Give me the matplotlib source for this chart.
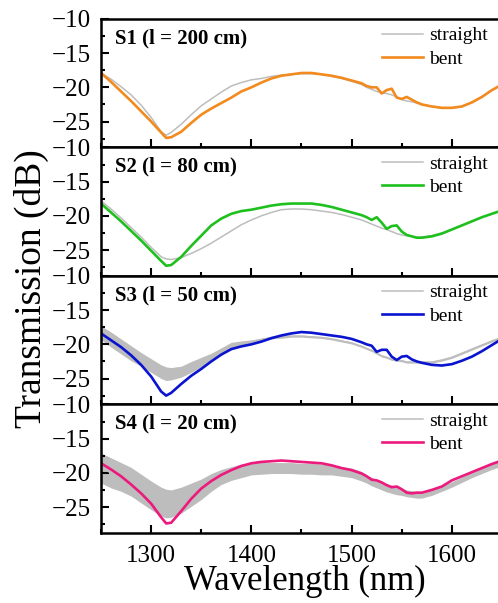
import matplotlib
matplotlib.use("Agg")
import matplotlib.pyplot as plt
from matplotlib.ticker import MultipleLocator

# --- data ---
wl = [1250, 1260, 1270, 1280, 1290, 1300, 1310, 1315, 1320, 1330, 1340, 1350, 1360, 1370,
      1380, 1390, 1400, 1410, 1420, 1430, 1440, 1450, 1460, 1470, 1480, 1490, 1500,
      1510, 1515, 1520, 1525, 1530, 1535, 1540, 1545, 1550, 1555, 1560, 1565, 1570,
      1580, 1590, 1600, 1610, 1620, 1630, 1640, 1650]

labels = ["S1 (l = 200 cm)", "S2 (l = 80 cm)", "S3 (l = 50 cm)", "S4 (l = 20 cm)"]
colors = ["#F28A1E", "#1EC01E", "#0A14D0", "#EC1A7C"]

s1_straight = [-17.9, -18.8, -19.9, -21.1, -22.6, -24.4, -26.5, -27.0, -26.6, -25.4, -24.0, -22.7, -21.7, -20.7,
               -19.8, -19.3, -18.9, -18.7, -18.4, -18.2, -18.1, -18.0, -18.0, -18.1, -18.4, -18.7, -19.1,
               -19.6, -20.0, -20.3, -20.6, -20.8, -20.9, -21.1, -21.4, -21.8, -22.0, -22.1, -22.3, -22.5,
               -22.8, -23.0, -23.0, -22.8, -22.2, -21.4, -20.4, -19.6]
s1_bent = [-17.9, -19.2, -20.6, -22.0, -23.5, -25.0, -26.6, -27.4, -27.3, -26.5, -25.2, -24.0, -23.1, -22.3,
           -21.5, -20.6, -20.0, -19.3, -18.7, -18.3, -18.1, -17.9, -17.9, -18.1, -18.3, -18.6, -19.0,
           -19.4, -19.8, -20.0, -20.0, -20.9, -20.4, -20.2, -21.5, -21.7, -21.4, -21.8, -22.2, -22.5,
           -22.8, -23.0, -23.0, -22.8, -22.2, -21.4, -20.4, -19.6]

s2_straight = [-17.8, -19.0, -20.3, -21.7, -23.1, -24.6, -26.0, -26.3, -26.4, -26.1, -25.5, -24.8, -24.0, -23.1,
               -22.2, -21.3, -20.6, -20.0, -19.5, -19.1, -19.0, -19.0, -19.1, -19.3, -19.5, -19.8, -20.2,
               -20.6, -20.9, -21.2, -21.5, -21.8, -22.0, -22.3, -22.6, -22.8, -22.9, -23.0, -23.1, -23.1,
               -22.9, -22.5, -22.0, -21.4, -20.8, -20.2, -19.7, -19.2]
s2_bent = [-18.2, -19.5, -20.8, -22.2, -23.6, -25.1, -26.6, -27.3, -27.2, -26.0, -24.4, -22.9, -21.4, -20.4,
           -19.7, -19.3, -19.1, -18.8, -18.5, -18.3, -18.2, -18.2, -18.2, -18.4, -18.7, -19.1, -19.5,
           -19.9, -20.2, -20.6, -20.2, -21.0, -21.9, -21.5, -21.4, -22.3, -22.8, -23.0, -23.2, -23.2,
           -23.0, -22.6, -22.0, -21.4, -20.8, -20.2, -19.7, -19.2]

s3_straight = [-18.3, -19.3, -20.3, -21.3, -22.2, -23.1, -24.0, -24.3, -24.3, -24.0, -23.3, -22.6, -21.9, -21.0,
               -20.1, -19.8, -19.6, -19.3, -19.0, -18.9, -18.8, -18.8, -18.9, -19.0, -19.2, -19.5, -19.8,
               -20.3, -20.6, -20.9, -21.3, -21.7, -21.9, -22.2, -22.3, -22.4, -22.6, -22.6, -22.6, -22.6,
               -22.6, -22.3, -21.9, -21.3, -20.7, -20.1, -19.5, -19.0]
s3_ripple = [1.0, 1.1, 1.1, 1.1, 1.0, 1.0, 1.0, 1.0, 0.9, 0.8, 0.8, 0.7, 0.6, 0.5,
             0.4, 0.3, 0.25, 0.2, 0.2, 0.2, 0.15, 0.15, 0.15, 0.15, 0.15, 0.15, 0.15,
             0.15, 0.15, 0.15, 0.15, 0.15, 0.15, 0.15, 0.15, 0.15, 0.15, 0.15, 0.15, 0.15,
             0.15, 0.15, 0.15, 0.15, 0.15, 0.15, 0.15, 0.15]
s3_bent = [-18.4, -19.4, -20.4, -21.6, -23.0, -24.7, -26.9, -27.5, -27.1, -25.8, -24.6, -23.6, -22.5, -21.5,
           -20.7, -20.3, -20.0, -19.6, -19.1, -18.7, -18.4, -18.2, -18.3, -18.5, -18.7, -18.9, -19.2,
           -19.7, -20.0, -20.2, -21.1, -20.8, -20.8, -21.8, -22.3, -21.8, -21.7, -22.2, -22.5, -22.7,
           -23.0, -23.1, -22.9, -22.4, -21.8, -21.0, -20.1, -19.2]

s4_straight = [-19.3, -20.0, -20.6, -21.3, -22.3, -23.3, -24.2, -24.5, -24.5, -24.0, -23.2, -22.4, -21.4, -20.6,
               -20.1, -19.7, -19.4, -19.3, -19.3, -19.3, -19.3, -19.4, -19.4, -19.5, -19.6, -19.8, -20.0,
               -20.5, -20.9, -21.3, -21.6, -21.9, -22.2, -22.4, -22.6, -22.8, -23.0, -23.1, -23.2, -23.2,
               -22.8, -22.3, -21.7, -21.0, -20.3, -19.7, -19.1, -18.6]
s4_ripple = [2.2, 2.2, 2.1, 2.1, 2.1, 2.1, 2.1, 2.1, 2.0, 1.9, 1.7, 1.5, 1.3, 1.1,
             1.0, 1.0, 0.9, 0.9, 0.8, 0.8, 0.8, 0.8, 0.8, 0.8, 0.7, 0.7, 0.7,
             0.7, 0.6, 0.6, 0.6, 0.6, 0.6, 0.6, 0.6, 0.5, 0.5, 0.5, 0.5, 0.5,
             0.5, 0.4, 0.4, 0.4, 0.4, 0.4, 0.4, 0.4]
s4_bent = [-18.6, -19.5, -20.5, -21.7, -23.0, -24.5, -26.5, -27.4, -27.3, -25.6, -23.8, -22.3, -21.2, -20.3,
           -19.6, -19.0, -18.6, -18.4, -18.3, -18.2, -18.3, -18.4, -18.5, -18.6, -18.9, -19.3, -19.6,
           -20.1, -20.5, -21.0, -21.1, -21.4, -21.8, -22.1, -22.0, -22.4, -22.9, -23.0, -22.9, -22.9,
           -22.5, -22.0, -21.1, -20.5, -19.9, -19.3, -18.7, -18.2]

straight = [s1_straight, s2_straight, s3_straight, s4_straight]
ripple = [None, None, s3_ripple, s4_ripple]
bent = [s1_bent, s2_bent, s3_bent, s4_bent]

plt.rcParams['font.family'] = ['Liberation Serif', 'DejaVu Serif']
plt.rcParams['axes.unicode_minus'] = True

fig = plt.figure(figsize=(4.98, 6.03), dpi=100)
gray = "#BDBDBD"

left, right = 0.2028, 1.008
top, h = 0.9685, 0.2131
for i in range(4):
    ax = fig.add_axes([left, top - h * (i + 1), right - left, h])
    # noisy straight traces (S3, S4): shaded ripple band around the trace
    if ripple[i] is not None:
        lo = [c - r for c, r in zip(straight[i], ripple[i])]
        hi = [c + r for c, r in zip(straight[i], ripple[i])]
        ax.fill_between(wl, lo, hi, color=gray, lw=0)
    ax.plot(wl, straight[i], color=gray, lw=1.1, label="straight")
    ax.plot(wl, bent[i], color=colors[i], lw=1.9, label="bent")

    ax.set_xlim(1250, 1650)
    ax.set_ylim(-28.8, -10)
    ax.yaxis.set_major_locator(MultipleLocator(5))
    ax.yaxis.set_minor_locator(MultipleLocator(2.5))
    ax.xaxis.set_major_locator(MultipleLocator(100))
    ax.xaxis.set_minor_locator(MultipleLocator(50))
    ax.tick_params(which='both', direction='in', top=False, right=False, width=1.5)
    ax.tick_params(which='major', length=6)
    ax.tick_params(which='minor', length=3)
    ax.tick_params(axis='y', labelsize=18, pad=7)
    ax.tick_params(axis='x', labelsize=18, pad=9)
    for sp in ax.spines.values():
        sp.set_linewidth(1.8)
    if i < 3:
        ax.tick_params(axis='x', labelbottom=False)

    ax.text(0.035, 0.85, labels[i], transform=ax.transAxes, fontsize=15,
            fontweight='bold', va='center', ha='left')
    ax.legend(loc='upper left', bbox_to_anchor=(0.70, 0.94), frameon=False,
              fontsize=14, handlelength=2.1, handletextpad=0.35, labelspacing=0.3,
              borderpad=0, borderaxespad=0)

fig.text(0.064, 0.522, "Transmission (dB)", rotation=90, fontsize=27,
         ha='center', va='center')
fig.text(0.612, 0.035, "Wavelength (nm)", fontsize=25, ha='center', va='center')

fig.savefig("out.png", dpi=100)
